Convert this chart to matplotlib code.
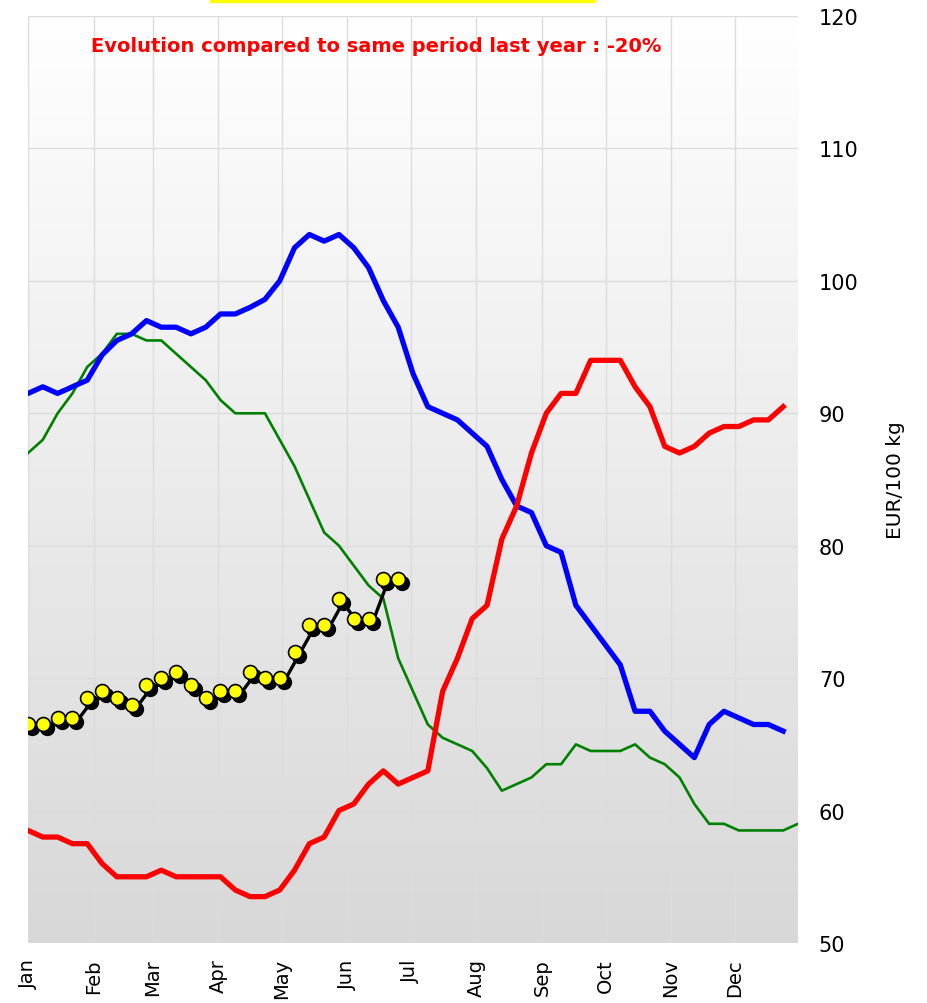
import numpy as np
import matplotlib.pyplot as plt
import matplotlib.transforms as mtransforms

# weekly prices, EUR/100 kg
weeks = np.arange(1, 54)
blue = [91.5, 92, 91.5, 92, 92.5, 94.4, 95.5, 96, 97, 96.5, 96.5, 96, 96.5, 97.5, 97.5, 98,
        98.6, 100, 102.5, 103.5, 103, 103.5, 102.5, 101, 98.5, 96.5, 93, 90.5, 90, 89.5, 88.5,
        87.5, 85, 83, 82.5, 80, 79.5, 75.5, 74, 72.5, 71, 67.5, 67.5, 66, 65, 64, 66.5, 67.5,
        67, 66.5, 66.5, 66]
red = [58.5, 58, 58, 57.5, 57.5, 56, 55, 55, 55, 55.5, 55, 55, 55, 55, 54, 53.5, 53.5, 54,
       55.5, 57.5, 58, 60, 60.5, 62, 63, 62, 62.5, 63, 69, 71.5, 74.5, 75.5, 80.5, 83, 87, 90,
       91.5, 91.5, 94, 94, 94, 92, 90.5, 87.5, 87, 87.5, 88.5, 89, 89, 89.5, 89.5, 90.5]
green = [87, 88, 90, 91.5, 93.5, 94.5, 96, 96, 95.5, 95.5, 94.5, 93.5, 92.5, 91, 90, 90, 90,
         88, 86, 83.5, 81, 80, 78.5, 77, 76, 71.5, 69, 66.5, 65.5, 65, 64.5, 63.2, 61.5, 62,
         62.5, 63.5, 63.5, 65, 64.5, 64.5, 64.5, 65, 64, 63.5, 62.5, 60.5, 59, 59, 58.5, 58.5,
         58.5, 58.5, 59]
current = [66.5, 66.5, 67, 67, 68.5, 69, 68.5, 68, 69.5, 70, 70.5, 69.5, 68.5, 69, 69, 70.5,
           70, 70, 72, 74, 74, 76, 74.5, 74.5, 77.5, 77.5]

months = ['Jan', 'Feb', 'Mar', 'Apr', 'May', 'Jun', 'Jul', 'Aug', 'Sep', 'Oct', 'Nov', 'Dec']
month_doy = [0, 31, 59, 90, 120, 151, 181, 212, 243, 273, 304, 334]

fig = plt.figure(figsize=(9.28, 10.04), dpi=100)
ax = fig.add_axes([28/928, 1-944/1004, 770/928, 927/1004])

# gradient background
grad = np.linspace(0, 1, 256).reshape(-1, 1)
cm = plt.matplotlib.colors.LinearSegmentedColormap.from_list('g', ['#d8d8d8', '#ffffff'])
ax.imshow(grad, extent=[1, 53, 50, 120], aspect='auto', cmap=cm, origin='lower', zorder=0)

ax.plot(weeks[:len(green)], green, color='#008000', lw=1.9, zorder=3)
ax.plot(weeks[:len(blue)], blue, color='#0000ff', lw=3.8, zorder=3)
ax.plot(weeks[:len(red)], red, color='#ff0000', lw=3.8, zorder=3)

# current year with shadow
wc = weeks[:len(current)]
shadow = mtransforms.offset_copy(ax.transData, fig=fig, x=4, y=-4, units='dots')
ax.plot(wc, current, color='black', lw=2.4, marker='o', ms=10, mfc='black', mec='black',
        transform=shadow, zorder=4)
ax.plot(wc, current, ls='none', marker='o', ms=10, mfc='#ffff00', mec='black', mew=1.2, zorder=5)

ax.set_xlim(1, 53)
ax.set_ylim(50, 120)
ax.set_xticks([1 + d/7 for d in month_doy])
ax.set_xticklabels(months, rotation=90, fontsize=14)
ax.set_yticks(range(50, 121, 10))
ax.yaxis.tick_right()
ax.yaxis.set_label_position('right')
ax.tick_params(axis='y', labelsize=15, length=0, pad=15)
ax.tick_params(axis='x', length=0, pad=11)
ax.set_ylabel('EUR/100 kg', fontsize=14.5, labelpad=20)
ax.grid(True, color='#dcdcdc', lw=1, zorder=1)
ax.set_axisbelow(True)
for s in ax.spines.values():
    s.set_visible(False)
ax.axhline(120, color='#dcdcdc', lw=1.5, zorder=1)

ax.text(0.452, 0.968, 'Evolution compared to same period last year : -20%', transform=ax.transAxes,
        ha='center', va='center', color='#ff0000', fontsize=14, fontweight='bold')

fig.patches.append(plt.Rectangle((210/928, 1-3/1004), 385/928, 3/1004, transform=fig.transFigure,
                                 color='#ffff00'))

fig.savefig('out.png', dpi=100)
